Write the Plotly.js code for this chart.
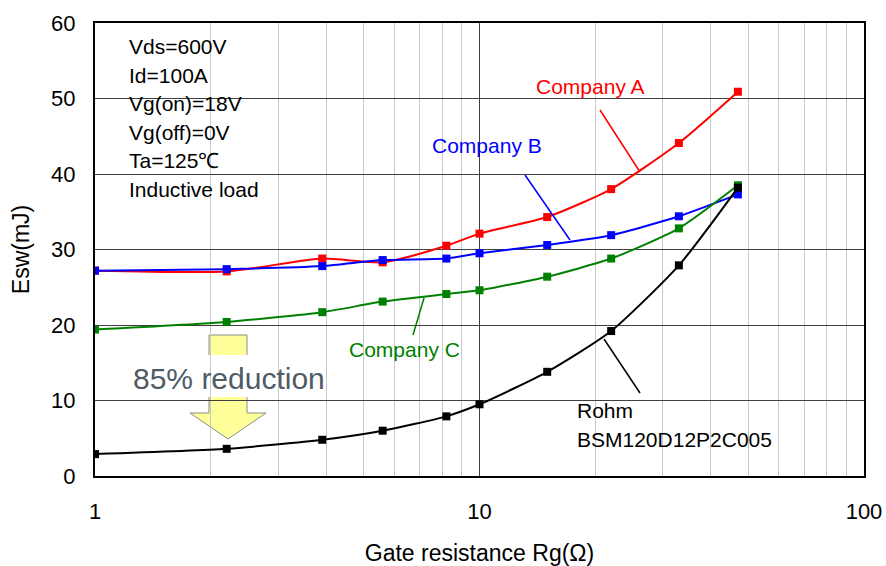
<!DOCTYPE html>
<html>
<head>
<meta charset="utf-8">
<script src="https://cdn.plot.ly/plotly-3.0.1.min.js"></script>
<style>html,body{margin:0;padding:0;background:#fff;}#chart{width:886px;height:566px;}</style>
</head>
<body>
<div id="chart"></div>
<script>
// ---- data ----
const rg = [1, 2.2, 3.9, 5.6, 8.2, 10, 15, 22, 33, 47];
const companyA = [27.2, 27.1, 28.8, 28.3, 30.5, 32.1, 34.3, 38.0, 44.1, 50.9];
const companyB = [27.2, 27.4, 27.8, 28.6, 28.8, 29.5, 30.6, 31.9, 34.4, 37.3];
const companyC = [19.4, 20.4, 21.7, 23.1, 24.1, 24.6, 26.4, 28.8, 32.8, 38.5];
const rohm     = [2.9, 3.6, 4.8, 6.0, 7.9, 9.5, 13.8, 19.2, 27.9, 38.2];
const seriesNames = ["Company A", "Company B", "Company C", "Rohm BSM120D12P2C005"];
const xTickVals = [1, 10, 100];
const xTickText = ["1", "10", "100"];
const yTickVals = [0, 10, 20, 30, 40, 50, 60];
const conditions = ["Vds=600V", "Id=100A", "Vg(on)=18V", "Vg(off)=0V", "Ta=125\u2103", "Inductive load"];

// ---- layout helpers (pixel -> paper) ----
const L = 95, R = 864, T = 23, B = 476;
const px = x => (x - L) / (R - L);
const py = y => (B - y) / (B - T);
const FONT = "Liberation Sans, Arial, sans-serif";

function trace(y, name, color) {
  return {
    x: rg, y: y, name: name, type: "scatter", mode: "lines+markers",
    line: {color: color, width: 2, shape: "spline", smoothing: 0.6},
    marker: {symbol: "square", size: 8, color: color},
    hoverinfo: "skip"
  };
}
const data = [
  trace(companyA, seriesNames[0], "#ff0000"),
  trace(companyB, seriesNames[1], "#0000ff"),
  trace(companyC, seriesNames[2], "#008000"),
  trace(rohm, seriesNames[3], "#000000")
];

function whiteBox(x0, y0, x1, y1) {
  return {type: "rect", xref: "paper", yref: "paper", x0: px(x0), x1: px(x1), y0: py(y1), y1: py(y0),
          fillcolor: "#ffffff", line: {width: 0}, layer: "between"};
}
function leader(x0, y0, x1, y1, color) {
  return {type: "line", xref: "paper", yref: "paper", x0: px(x0), y0: py(y0), x1: px(x1), y1: py(y1),
          line: {color: color, width: 1.5}, layer: "above"};
}
const arrowPath = "M " + px(209) + "," + py(335) + " L " + px(247) + "," + py(335) + " L " + px(247) + "," + py(413) +
  " L " + px(266) + "," + py(413) + " L " + px(228) + "," + py(439) + " L " + px(190) + "," + py(413) +
  " L " + px(209) + "," + py(413) + " Z";

const shapes = [
  {type: "path", xref: "paper", yref: "paper", path: arrowPath, fillcolor: "#ffff99", line: {color: "#8c8c8c", width: 1}, layer: "between"},
  whiteBox(121, 33, 323, 202),
  whiteBox(526, 70, 687, 110),
  whiteBox(422, 117, 592, 175),
  whiteBox(335, 335, 490, 372),
  whiteBox(120, 355, 345, 397),
  whiteBox(568, 393, 803, 463),
  leader(600, 110, 640, 172, "#ff0000"),
  leader(525, 175, 570, 240, "#0000ff"),
  leader(424, 298, 413, 335, "#008000"),
  leader(604, 339, 640, 393, "#000000")
];

function label(text, x, y, color, size, anchor) {
  return {text: text, xref: "paper", yref: "paper", x: px(x), y: py(y), showarrow: false,
          xanchor: anchor || "center", yanchor: "middle", font: {family: FONT, size: size, color: color}};
}
const annotations = conditions.map((t, i) => label(t, 127, 46.5 + i * 28.5, "#000000", 21, "left"));
annotations.push(label("Company A", 590, 86, "#ff0000", 21));
annotations.push(label("Company B", 487, 145, "#0000ff", 21));
annotations.push(label("Company C", 404, 349, "#008000", 21));
annotations.push(label("85% reduction", 229, 378, "#4f5b66", 30));
annotations.push(label("Rohm", 575, 411, "#000000", 21, "left"));
annotations.push(label("BSM120D12P2C005", 575, 439, "#000000", 21, "left"));

const layout = {
  width: 886, height: 566,
  margin: {l: L, r: 886 - R, t: T, b: 566 - B},
  paper_bgcolor: "#ffffff", plot_bgcolor: "#ffffff",
  showlegend: false, hovermode: false,
  font: {family: FONT, color: "#000000"},
  xaxis: {
    type: "log", range: [0, 2], tickvals: xTickVals, ticktext: xTickText, ticks: "",
    showline: true, linecolor: "#000000", linewidth: 2, mirror: true,
    showgrid: true, gridcolor: "#404040", gridwidth: 1,
    minor: {showgrid: true, gridcolor: "#c8c8c8", gridwidth: 1, dtick: "D1"},
    tickfont: {size: 22, color: "#000000"}, ticklabelstandoff: 15,
    title: {text: "Gate resistance Rg(\u03A9)", font: {size: 23, color: "#000000"}, standoff: 23},
    automargin: false, zeroline: false
  },
  yaxis: {
    range: [0, 60], tickvals: yTickVals, ticks: "",
    showline: true, linecolor: "#000000", linewidth: 2, mirror: true,
    showgrid: true, gridcolor: "#404040", gridwidth: 1,
    tickfont: {size: 22, color: "#000000"}, ticklabelstandoff: 13,
    title: {text: "Esw(mJ)", font: {size: 23, color: "#000000"}, standoff: 15},
    automargin: false, zeroline: false
  },
  shapes: shapes,
  annotations: annotations
};

Plotly.newPlot("chart", data, layout, {displayModeBar: false, staticPlot: true});
</script>
</body>
</html>
